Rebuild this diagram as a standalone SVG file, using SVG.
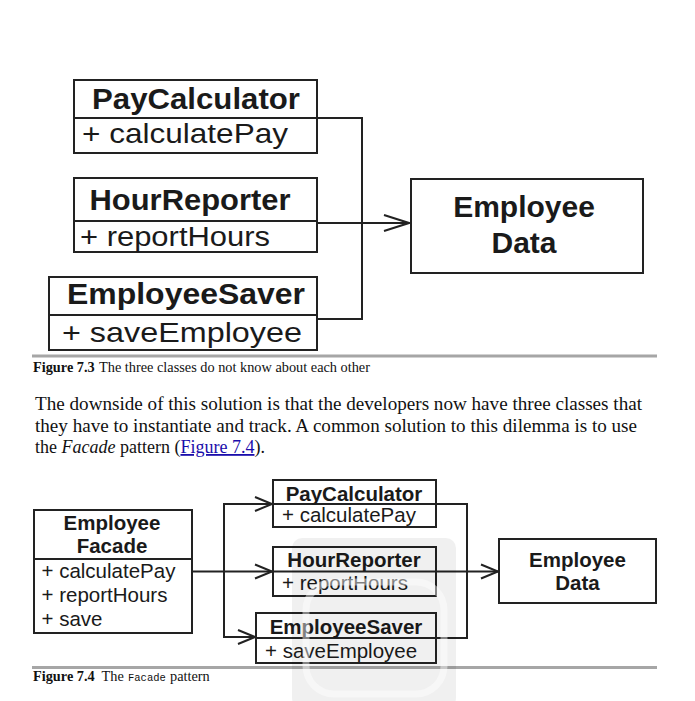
<svg xmlns="http://www.w3.org/2000/svg" width="695" height="701" viewBox="0 0 695 701">
<style>
.box{fill:#fff;stroke:#222;stroke-width:2}
.div{stroke:#222;stroke-width:2}
.conn{fill:none;stroke:#222;stroke-width:2}
.t{font-family:"Liberation Sans",Arial,sans-serif;font-weight:bold;fill:#1a1a1a}
.m{font-family:"Liberation Sans",Arial,sans-serif;fill:#1a1a1a}
.b{font-family:"Liberation Serif","Times New Roman",serif;fill:#111}
.sep{stroke:#a6a6a6;stroke-width:3}
</style>
<defs>
<marker id="ah1" markerUnits="userSpaceOnUse" viewBox="-27 -10 29 20" refX="0" refY="0" markerWidth="29" markerHeight="20" orient="auto">
<path d="M-25,-8 L0,0 L-25,8" fill="none" stroke="#222" stroke-width="2"/>
</marker>
<marker id="ah2" markerUnits="userSpaceOnUse" viewBox="-19 -9 21 18" refX="0" refY="0" markerWidth="21" markerHeight="18" orient="auto">
<path d="M-17,-7 L0,0 L-17,7" fill="none" stroke="#222" stroke-width="2"/>
</marker>
</defs>
<rect width="695" height="701" fill="#fff"/>

<!-- Figure 7.3 -->
<g id="connectors-73">
<path class="conn" d="M317,118 H362 V319 H317"/>
<path class="conn" d="M317,223 H409" marker-end="url(#ah1)"/>
</g>
<g id="f73-paycalculator">
<rect class="box" x="74" y="80" width="243" height="73"/>
<line class="div" x1="74" y1="118" x2="317" y2="118"/>
<text class="t" x="196" y="109" font-size="30" text-anchor="middle" textLength="208" lengthAdjust="spacingAndGlyphs">PayCalculator</text>
<text class="m" x="82" y="143" font-size="27.5" textLength="206" lengthAdjust="spacingAndGlyphs">+ calculatePay</text>
</g>
<g id="f73-hourreporter">
<rect class="box" x="74" y="178" width="243" height="74"/>
<line class="div" x1="74" y1="221" x2="317" y2="221"/>
<text class="t" x="190" y="209.5" font-size="30" text-anchor="middle" textLength="201" lengthAdjust="spacingAndGlyphs">HourReporter</text>
<text class="m" x="80" y="246" font-size="27.5" textLength="190" lengthAdjust="spacingAndGlyphs">+ reportHours</text>
</g>
<g id="f73-employeesaver">
<rect class="box" x="49" y="277" width="268" height="73"/>
<line class="div" x1="49" y1="315" x2="317" y2="315"/>
<text class="t" x="186" y="303.5" font-size="30" text-anchor="middle" textLength="238" lengthAdjust="spacingAndGlyphs">EmployeeSaver</text>
<text class="m" x="62" y="342" font-size="27.5" textLength="240" lengthAdjust="spacingAndGlyphs">+ saveEmployee</text>
</g>
<g id="f73-employeedata">
<rect class="box" x="411" y="179" width="232" height="94"/>
<text class="t" x="524" y="217" font-size="30" text-anchor="middle">Employee</text>
<text class="t" x="524" y="253" font-size="30" text-anchor="middle">Data</text>
</g>

<line class="sep" x1="32" y1="356" x2="657" y2="356"/>
<text class="b" x="33" y="371.5" font-size="14.3" font-weight="bold">Figure 7.3</text>
<text class="b" x="99" y="371.5" font-size="14.3" textLength="271" lengthAdjust="spacingAndGlyphs">The three classes do not know about each other</text>

<text class="b" x="35" y="410" font-size="18" textLength="607" lengthAdjust="spacingAndGlyphs">The downside of this solution is that the developers now have three classes that</text>
<text class="b" x="35" y="431.5" font-size="18" textLength="602" lengthAdjust="spacingAndGlyphs">they have to instantiate and track. A common solution to this dilemma is to use</text>
<text class="b" x="35" y="453" font-size="18">the <tspan font-style="italic">Facade</tspan> pattern (<tspan fill="#1a0dab" text-decoration="underline">Figure 7.4</tspan>).</text>

<!-- Figure 7.4 -->
<g id="connectors-74">
<path class="conn" d="M192,571.5 H272" marker-end="url(#ah2)"/>
<path class="conn" d="M224,571.5 V504 H272" marker-end="url(#ah2)"/>
<path class="conn" d="M224,571.5 V637 H255" marker-end="url(#ah2)"/>
<path class="conn" d="M436,504 H467 V638 H436"/>
<path class="conn" d="M436,571.5 H498" marker-end="url(#ah2)"/>
</g>
<g id="f74-facade">
<rect class="box" x="34" y="510" width="158" height="123"/>
<line class="div" x1="34" y1="559" x2="192" y2="559"/>
<text class="t" x="112" y="530" font-size="20.5" text-anchor="middle">Employee</text>
<text class="t" x="112" y="553" font-size="20.5" text-anchor="middle">Facade</text>
<text class="m" x="41.5" y="578" font-size="20.5">+ calculatePay</text>
<text class="m" x="41.5" y="602" font-size="20.5">+ reportHours</text>
<text class="m" x="41.5" y="626" font-size="20.5">+ save</text>
</g>
<g id="f74-paycalculator">
<rect class="box" x="273" y="480" width="163" height="47"/>
<line class="div" x1="273" y1="504" x2="436" y2="504"/>
<text class="t" x="354" y="501" font-size="20.5" text-anchor="middle">PayCalculator</text>
<text class="m" x="282" y="522" font-size="20.5">+ calculatePay</text>
</g>
<g id="f74-hourreporter">
<rect class="box" x="273" y="547" width="163" height="49"/>
<line class="div" x1="273" y1="571.5" x2="436" y2="571.5"/>
<text class="t" x="354" y="567" font-size="20.5" text-anchor="middle">HourReporter</text>
<text class="m" x="282" y="590" font-size="20.5">+ reportHours</text>
</g>
<g id="f74-employeesaver">
<rect class="box" x="256" y="613" width="180" height="50"/>
<line class="div" x1="256" y1="638" x2="436" y2="638"/>
<text class="t" x="346" y="633.5" font-size="20.5" text-anchor="middle">EmployeeSaver</text>
<text class="m" x="265" y="657.5" font-size="20.5">+ saveEmployee</text>
</g>
<g id="f74-employeedata">
<rect class="box" x="499" y="539" width="157" height="64"/>
<text class="t" x="577.5" y="566.5" font-size="20.5" text-anchor="middle">Employee</text>
<text class="t" x="577.5" y="590" font-size="20.5" text-anchor="middle">Data</text>
</g>

<line class="sep" x1="32" y1="667.5" x2="657" y2="667.5"/>
<text class="b" x="33" y="681" font-size="14.3" font-weight="bold">Figure 7.4</text>
<text class="b" x="101.5" y="681" font-size="14.3">The</text>
<text x="128" y="681" font-size="10.5" font-family="'Liberation Mono','DejaVu Sans Mono',monospace" fill="#111">Facade</text>
<text class="b" x="170" y="681" font-size="14.3">pattern</text>

<!-- watermark -->
<g id="watermark">
<rect x="292" y="538" width="164" height="170" rx="10" fill="#000" fill-opacity="0.06"/>
<rect x="306" y="582" width="138" height="112" rx="28" fill="none" stroke="#fff" stroke-opacity="0.45" stroke-width="7"/>
</g>
</svg>
